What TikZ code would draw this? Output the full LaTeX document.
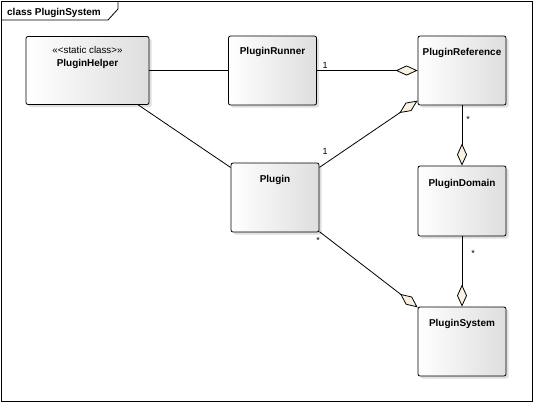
\documentclass[tikz,border=0pt]{standalone}
\usepackage{fontspec}
\setmainfont{Liberation Sans}
\usetikzlibrary{arrows.meta,shadows}
\definecolor{dia}{HTML}{FBF1E1}
\begin{document}
\begin{tikzpicture}[x=1bp,y=-1bp,
  cls/.style={draw, rounded corners=2bp, line width=0.8bp, left color=white, right color=black!13,
    drop shadow={shadow xshift=2.5bp, shadow yshift=-2.5bp, opacity=0.25},
    inner sep=0pt, minimum width=88bp, minimum height=69bp},
  nm/.style={anchor=base, inner sep=0pt, font=\bfseries\fontsize{10}{12}\selectfont},
  st/.style={anchor=base, inner sep=0pt, font=\fontsize{9.8}{12}\selectfont},
  mult/.style={inner sep=0pt, font=\fontsize{9}{11}\selectfont},
  assoc/.style={line width=0.8bp},
  aggr/.style={line width=0.8bp, -{Diamond[length=22bp, width=10bp, fill=dia, line width=0.8bp]}}
]
\useasboundingbox (0,0) rectangle (533,402);
\draw[line width=0.8bp] (1,1) rectangle (532,401);
\draw[line width=0.8bp] (1,20) -- (108,20) -- (118,9) -- (118,1);
\node[anchor=base west, inner sep=0pt, font=\bfseries\fontsize{10}{12}\selectfont] (title) at (7,15) {class PluginSystem};

\node[cls, minimum width=123bp, minimum height=68bp] (helper) at (87.5,70.5) {};
\node[st] (helperS) at (87.5,53) {«<static class>»};
\node[nm] (helperN) at (87.5,66) {PluginHelper};

\node[cls] (runner) at (272.5,70.5) {};
\node[nm] (runnerN) at (272.5,54.5) {PluginRunner};

\node[cls] (ref) at (462,70.5) {};
\node[nm] (refN) at (462,55) {PluginReference};

\node[cls] (plugin) at (275,197.5) {};
\node[nm] (pluginN) at (275,182) {Plugin};

\node[cls, minimum height=70bp] (domain) at (462,201) {};
\node[nm] (domainN) at (462,186) {PluginDomain};

\node[cls] (system) at (462,341.5) {};
\node[nm] (systemN) at (462,326) {PluginSystem};

\draw[assoc] (helper) -- (runner);
\draw[assoc] (helper) -- (plugin);
\draw[aggr] (runner) -- (ref);
\draw[aggr] (plugin) -- (ref);
\draw[aggr] (ref) -- (domain);
\draw[aggr] (domain) -- (system);
\draw[aggr] (plugin) -- (system);

\node[mult] (m1) at (325,65) {1};
\node[mult] (m2) at (325,151) {1};
\node[mult] (m3) at (468,119) {*};
\node[mult] (m4) at (473,253) {*};
\node[mult] (m5) at (318,240) {*};
\end{tikzpicture}
\end{document}
